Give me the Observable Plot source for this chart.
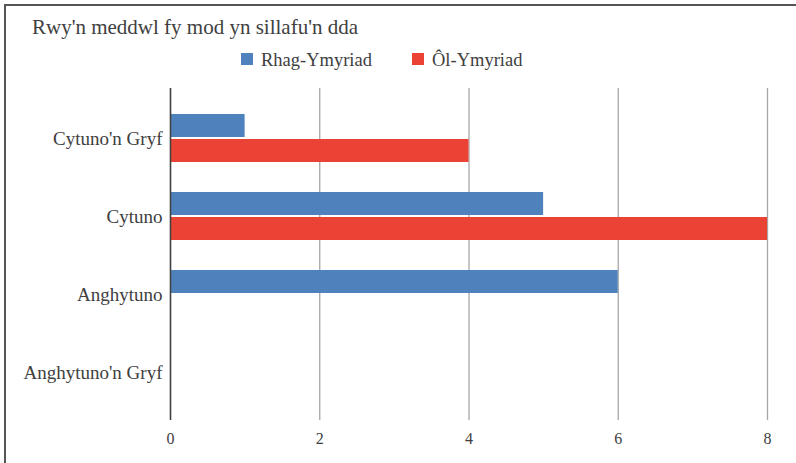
<!DOCTYPE html>
<html>
<head>
<meta charset="utf-8">
<script src="https://cdn.jsdelivr.net/npm/d3@7"></script>
<script src="https://cdn.jsdelivr.net/npm/@observablehq/plot@0.6"></script>
<style>
  body { margin: 0; background: #fff; }
  #wrap { position: relative; width: 796px; height: 463px; overflow: hidden; color: #404040; background: #fff; }
  #border { position: absolute; left: 4px; top: 4px; width: 800px; height: 470px; border-top: 2px solid #555; border-left: 2px solid #555; box-sizing: border-box; }
  #head { position: relative; height: 80px; }
  #title { position: absolute; left: 32px; top: 17px; font-size: 21px; line-height: 21px; white-space: nowrap; }
  .item { position: absolute; top: 52px; font-size: 18.5px; line-height: 18px; white-space: nowrap; }
  .sw { position: absolute; top: 1px; width: 12px; height: 12px; }
  .lab { position: absolute; left: 20px; top: -1px; }
  #chart svg { display: block; }
</style>
</head>
<body>
<div id="wrap">
  <div id="border"></div>
  <div id="head">
    <div id="title" style="font-family: 'Liberation Serif', 'Times New Roman', serif;"></div>
    <div id="legend" style="font-family: 'Liberation Serif', 'Times New Roman', serif;"></div>
  </div>
  <div id="chart"></div>
</div>
<script>
const titleText = "Rwy'n meddwl fy mod yn sillafu'n dda";
const categories = ["Cytuno'n Gryf", "Cytuno", "Anghytuno", "Anghytuno'n Gryf"];
const seriesNames = ["Rhag-Ymyriad", "Ôl-Ymyriad"];
const preValues = [1, 5, 6, 0];
const postValues = [4, 8, 0, 0];
const xTicks = [0, 2, 4, 6, 8];
const seriesColors = ["#4F81BD", "#EA4335"];

const serifFont = "'Liberation Serif', 'Times New Roman', serif";

document.getElementById("title").textContent = titleText;

const legend = document.getElementById("legend");
const legendLeft = [241, 412];
seriesNames.forEach((name, i) => {
  const item = document.createElement("div");
  item.className = "item";
  item.style.left = legendLeft[i] + "px";
  item.style.fontFamily = serifFont;
  const sw = document.createElement("span");
  sw.className = "sw";
  sw.style.background = seriesColors[i];
  const lab = document.createElement("span");
  lab.className = "lab";
  lab.style.fontFamily = serifFont;
  lab.textContent = name;
  item.appendChild(sw);
  item.appendChild(lab);
  legend.appendChild(item);
});

const rows = [];
categories.forEach((c, i) => {
  rows.push({category: c, series: seriesNames[0], value: preValues[i]});
  rows.push({category: c, series: seriesNames[1], value: postValues[i]});
});

const chart = Plot.plot({
  width: 796,
  height: 383,
  marginTop: 8,
  marginBottom: 43,
  marginLeft: 170,
  marginRight: 29,
  style: {fontFamily: serifFont, fontSize: "19px", color: "#404040", background: "transparent", overflow: "visible"},
  x: {domain: [0, 8], label: null},
  y: {domain: categories, padding: 0, insetTop: 11, insetBottom: 9, label: null},
  color: {domain: seriesNames, range: seriesColors},
  marks: [
    Plot.gridX(xTicks, {stroke: "#a6a6a6", strokeOpacity: 1, strokeWidth: 1.3}),
    Plot.barX(rows.filter(d => d.series === seriesNames[0]), {x: "value", y: "category", fill: "series", insetTop: 15, insetBottom: 40}),
    Plot.barX(rows.filter(d => d.series === seriesNames[1]), {x: "value", y: "category", fill: "series", insetTop: 40, insetBottom: 15}),
    Plot.ruleX([0], {stroke: "#404040", strokeWidth: 1.5}),
    Plot.axisX(xTicks, {tickSize: 0, tickPadding: 12, fontSize: 16, fill: "#404040", label: null}),
    Plot.axisY(categories, {tickSize: 0, tickPadding: 8, fontSize: 19, fill: "#404040", label: null})
  ]
});
document.getElementById("chart").appendChild(chart);
</script>
</body>
</html>
